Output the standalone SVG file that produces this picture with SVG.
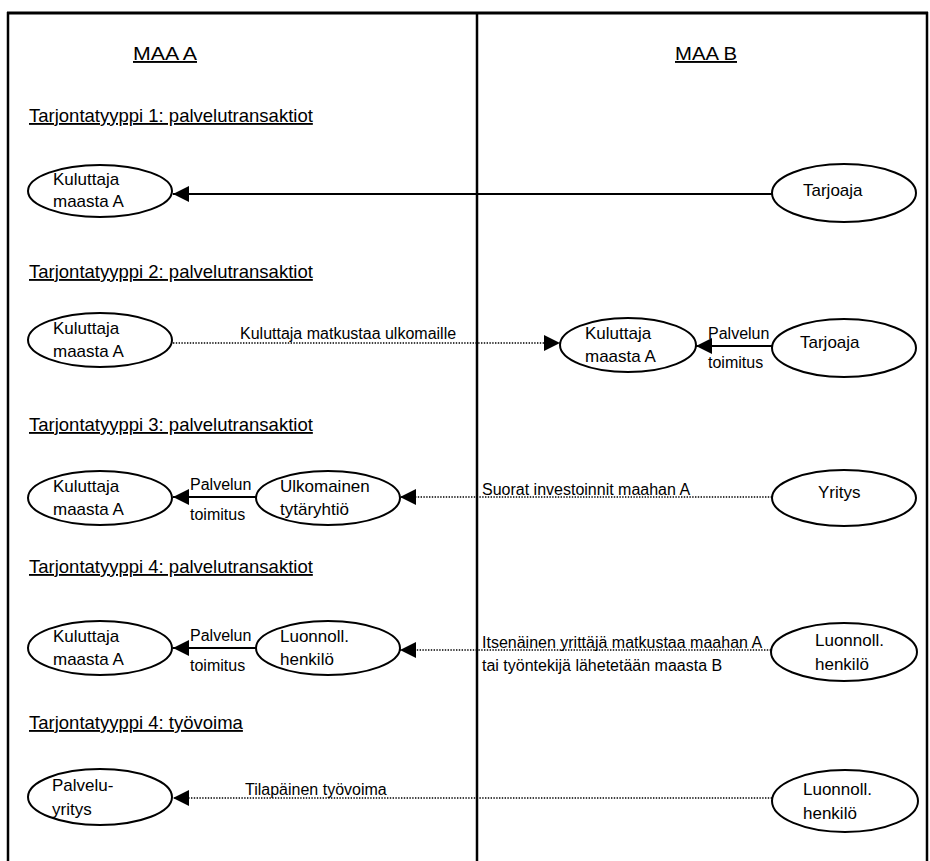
<svg xmlns="http://www.w3.org/2000/svg" width="930" height="861" viewBox="0 0 930 861">
<defs>
<marker id="ah" viewBox="0 0 16 16" refX="16" refY="8" markerUnits="userSpaceOnUse" markerWidth="16" markerHeight="16" orient="auto">
<path d="M0,0 L16,8 L0,16 z" fill="#000"/>
</marker>
</defs>
<style>
text{font-family:"Liberation Sans",Arial,sans-serif;fill:#000}
.h{font-size:18.5px;text-decoration:underline}
.t{font-size:19px;text-decoration:underline}
.n{font-size:17px}
.l{font-size:16px}
.frame{stroke:#000;stroke-width:2.5;fill:none}
ellipse{fill:#fff;stroke:#000;stroke-width:2}
.solid{stroke:#000;stroke-width:2;fill:none}
.dot{stroke:#000;stroke-width:1.4;stroke-dasharray:1.4 1.4;fill:none}
</style>
<rect width="930" height="861" fill="#fff"/>
<g id="frame">
<line class="frame" x1="7" y1="13" x2="928" y2="13" style="stroke-width:3"/>
<line class="frame" x1="8" y1="12" x2="8" y2="861"/>
<line class="frame" x1="927" y1="12" x2="927" y2="861"/>
<line class="frame" x1="477" y1="12" x2="477" y2="861"/>
</g>
<g id="headings">
<text class="t" x="133" y="60" textLength="64" lengthAdjust="spacingAndGlyphs">MAA A</text>
<text class="t" x="675" y="60" textLength="62" lengthAdjust="spacingAndGlyphs">MAA B</text>
<text class="h" x="29" y="122">Tarjontatyyppi 1: palvelutransaktiot</text>
<text class="h" x="29" y="278">Tarjontatyyppi 2: palvelutransaktiot</text>
<text class="h" x="29" y="431">Tarjontatyyppi 3: palvelutransaktiot</text>
<text class="h" x="29" y="573">Tarjontatyyppi 4: palvelutransaktiot</text>
<text class="h" x="29" y="729">Tarjontatyyppi 4: työvoima</text>
</g>
<g id="connectors">
<line class="solid" x1="772" y1="194" x2="173" y2="194" marker-end="url(#ah)"/>
<line class="dot" x1="173" y1="343" x2="560" y2="343" marker-end="url(#ah)"/>
<line class="solid" x1="772" y1="346" x2="696" y2="346" marker-end="url(#ah)"/>
<line class="solid" x1="256" y1="497" x2="173" y2="497" marker-end="url(#ah)"/>
<line class="dot" x1="772" y1="497" x2="400" y2="497" marker-end="url(#ah)"/>
<line class="solid" x1="256" y1="648" x2="173" y2="648" marker-end="url(#ah)"/>
<line class="dot" x1="771" y1="650" x2="400" y2="650" marker-end="url(#ah)"/>
<line class="dot" x1="772" y1="798" x2="173" y2="798" marker-end="url(#ah)"/>
<text class="l" x="240" y="339">Kuluttaja matkustaa ulkomaille</text>
<text class="l" x="708" y="339">Palvelun</text>
<text class="l" x="708" y="368">toimitus</text>
<text class="l" x="190" y="490">Palvelun</text>
<text class="l" x="190" y="520">toimitus</text>
<text class="l" x="482" y="495">Suorat investoinnit maahan A</text>
<text class="l" x="190" y="641">Palvelun</text>
<text class="l" x="190" y="671">toimitus</text>
<text class="l" x="482" y="648">Itsenäinen yrittäjä matkustaa maahan A</text>
<text class="l" x="482" y="671">tai työntekijä lähetetään maasta B</text>
<text class="l" x="245" y="795">Tilapäinen työvoima</text>
</g>
<g id="n1a"><ellipse cx="100" cy="191" rx="72" ry="26"/><text class="n" x="53" y="185">Kuluttaja</text><text class="n" x="53" y="207">maasta A</text></g>
<g id="n1b"><ellipse cx="844" cy="193" rx="72" ry="29"/><text class="n" x="803" y="196">Tarjoaja</text></g>
<g id="n2a"><ellipse cx="100" cy="340" rx="72" ry="27"/><text class="n" x="53" y="334">Kuluttaja</text><text class="n" x="53" y="357">maasta A</text></g>
<g id="n2b"><ellipse cx="628" cy="345" rx="68" ry="27"/><text class="n" x="585" y="339">Kuluttaja</text><text class="n" x="585" y="362">maasta A</text></g>
<g id="n2c"><ellipse cx="844" cy="348" rx="72" ry="29"/><text class="n" x="800" y="348">Tarjoaja</text></g>
<g id="n3a"><ellipse cx="100" cy="498" rx="72" ry="27"/><text class="n" x="53" y="492">Kuluttaja</text><text class="n" x="53" y="515">maasta A</text></g>
<g id="n3b"><ellipse cx="328" cy="498" rx="72" ry="27"/><text class="n" x="280" y="492">Ulkomainen</text><text class="n" x="280" y="515">tytäryhtiö</text></g>
<g id="n3c"><ellipse cx="844" cy="498" rx="72" ry="28"/><text class="n" x="818" y="498">Yritys</text></g>
<g id="n4a"><ellipse cx="100" cy="648" rx="72" ry="27"/><text class="n" x="53" y="642">Kuluttaja</text><text class="n" x="53" y="665">maasta A</text></g>
<g id="n4b"><ellipse cx="328" cy="648" rx="72" ry="27"/><text class="n" x="280" y="642">Luonnoll.</text><text class="n" x="280" y="665">henkilö</text></g>
<g id="n4c"><ellipse cx="844" cy="652" rx="73" ry="29"/><text class="n" x="815" y="646">Luonnoll.</text><text class="n" x="815" y="670">henkilö</text></g>
<g id="n5a"><ellipse cx="100" cy="797" rx="72" ry="28"/><text class="n" x="52" y="791">Palvelu-</text><text class="n" x="52" y="815">yritys</text></g>
<g id="n5b"><ellipse cx="845" cy="801" rx="73" ry="31"/><text class="n" x="803" y="795">Luonnoll.</text><text class="n" x="803" y="819">henkilö</text></g>
</svg>
